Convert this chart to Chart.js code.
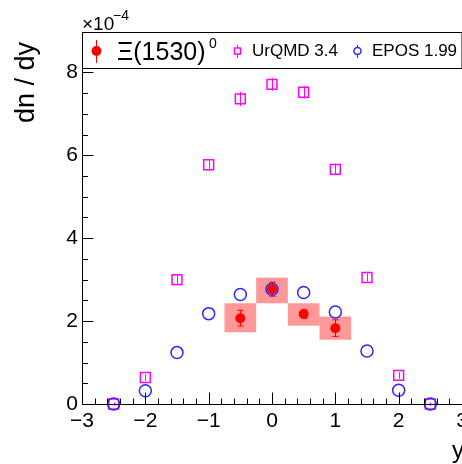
<!DOCTYPE html>
<html>
<head>
<meta charset="utf-8">
<script src="https://cdn.jsdelivr.net/npm/chart.js@4.4.0/dist/chart.umd.min.js"></script>
<style>
  html, body { margin: 0; padding: 0; background: #fff; }
</style>
</head>
<body>
<canvas id="myChart" width="462" height="464"></canvas>
<script>
// values in units of 1e-4
var rapidity = [-0.5, 0, 0.5, 1];
var xiYield = [2.07, 2.77, 2.17, 1.83];
var xiStat = [0.19, 0.17, 0.1, 0.2];
var xiSysLow = [1.73, 2.43, 1.89, 1.55];
var xiSysHigh = [2.43, 3.05, 2.43, 2.11];
var sysHalfWidth = 0.25;

var modelRapidity = [-2.5, -2, -1.5, -1, -0.5, 0, 0.5, 1, 1.5, 2, 2.5];
var urqmd = [0, 0.64, 3.0, 5.77, 7.36, 7.71, 7.52, 5.66, 3.05, 0.69, 0];
var urqmdErr = [0.04, 0.08, 0.1, 0.14, 0.17, 0.15, 0.15, 0.14, 0.1, 0.08, 0.04];
var epos = [0, 0.32, 1.24, 2.18, 2.64, 2.77, 2.69, 2.22, 1.28, 0.33, 0];

var xTicks = [-3, -2, -1, 0, 1, 2, 3];
var yTicks = [0, 2, 4, 6, 8];

var FONT = '"Liberation Sans", Arial, Helvetica, sans-serif';

function pts(xv, yv) {
    return xv.map(function (x, i) { return {x: x, y: yv[i]}; });
}

function minus(v) {
    return String(v).replace('-', '\u2212');
}

var rootStyle = {
    id: 'rootStyle',
    beforeDatasetsDraw: function (chart) {
        var ctx = chart.ctx, xs = chart.scales.x, ys = chart.scales.y;
        ctx.save();
        // systematic boxes
        ctx.fillStyle = 'rgba(255, 0, 0, 0.4)';
        rapidity.forEach(function (r, i) {
            var x0 = xs.getPixelForValue(r - sysHalfWidth), x1 = xs.getPixelForValue(r + sysHalfWidth);
            var y0 = ys.getPixelForValue(xiSysHigh[i]), y1 = ys.getPixelForValue(xiSysLow[i]);
            ctx.fillRect(x0, y0, x1 - x0, y1 - y0);
        });
        // UrQMD error bars
        ctx.strokeStyle = '#ff00ff';
        ctx.lineWidth = 1;
        modelRapidity.forEach(function (r, i) {
            var x = Math.round(xs.getPixelForValue(r)) + 0.5;
            ctx.beginPath();
            ctx.moveTo(x, ys.getPixelForValue(urqmd[i] + urqmdErr[i]));
            ctx.lineTo(x, ys.getPixelForValue(urqmd[i] - urqmdErr[i]));
            ctx.stroke();
        });
        // Xi stat error bars
        ctx.strokeStyle = '#ff0000';
        rapidity.forEach(function (r, i) {
            var x = Math.round(xs.getPixelForValue(r)) + 0.5;
            var yt = ys.getPixelForValue(xiYield[i] + xiStat[i]), yb = ys.getPixelForValue(xiYield[i] - xiStat[i]);
            ctx.beginPath();
            ctx.moveTo(x, yt); ctx.lineTo(x, yb);
            ctx.moveTo(x - 3, yt); ctx.lineTo(x + 3, yt);
            ctx.moveTo(x - 3, yb); ctx.lineTo(x + 3, yb);
            ctx.stroke();
        });
        ctx.restore();
    },
    afterDraw: function (chart) {
        var ctx = chart.ctx, xs = chart.scales.x, ys = chart.scales.y, a = chart.chartArea;
        ctx.save();
        ctx.strokeStyle = '#000';
        ctx.lineWidth = 1;
        var left = Math.round(a.left) + 0.5, bottom = Math.round(a.bottom) + 0.5;
        ctx.beginPath();
        ctx.moveTo(left, a.top); ctx.lineTo(left, bottom); ctx.lineTo(a.right, bottom);
        // ticks inside the frame
        for (var v = 0; v <= ys.max + 1e-6; v += 0.5) {
            var y = Math.round(ys.getPixelForValue(v)) + 0.5;
            var len = (Math.abs(v % 2) < 1e-6) ? 11 : 5.5;
            ctx.moveTo(left, y); ctx.lineTo(left + len, y);
        }
        for (var k = -15; k <= 15; k++) {
            var xv = k * 0.2;
            var x = Math.round(xs.getPixelForValue(xv)) + 0.5;
            var l2 = (k % 5 === 0) ? 12 : 6;
            ctx.moveTo(x, bottom); ctx.lineTo(x, bottom - l2);
        }
        ctx.stroke();

        // legend box
        ctx.fillStyle = '#fff';
        ctx.fillRect(left, 32.5, 462 - left, 36);
        ctx.strokeRect(left, 32.5, 462 - left, 36);

        ctx.fillStyle = '#000';
        ctx.textBaseline = 'alphabetic';
        ctx.textAlign = 'left';
        // Xi entry
        ctx.strokeStyle = '#ff0000';
        ctx.beginPath();
        ctx.moveTo(96.5, 40); ctx.lineTo(96.5, 63);
        ctx.stroke();
        ctx.fillStyle = '#ff0000';
        ctx.beginPath();
        ctx.arc(96.5, 51, 5, 0, Math.PI * 2);
        ctx.fill();
        ctx.fillStyle = '#000';
        ctx.font = '25px ' + FONT;
        ctx.fillText('\u039E(1530)', 117, 60);
        ctx.font = '14px ' + FONT;
        ctx.fillText('0', 209, 48);
        // UrQMD entry
        ctx.strokeStyle = '#ff00ff';
        ctx.lineWidth = 1;
        ctx.beginPath();
        ctx.moveTo(237.5, 45); ctx.lineTo(237.5, 58);
        ctx.stroke();
        ctx.lineWidth = 1.5;
        ctx.fillStyle = '#fff';
        ctx.fillRect(234.5, 48, 6, 6);
        ctx.strokeRect(234.5, 48, 6, 6);
        ctx.fillStyle = '#000';
        ctx.font = '17px ' + FONT;
        ctx.fillText('UrQMD 3.4', 252, 56);
        // EPOS entry
        ctx.strokeStyle = 'rgb(40, 40, 255)';
        ctx.lineWidth = 1;
        ctx.beginPath();
        ctx.moveTo(357.5, 45); ctx.lineTo(357.5, 58);
        ctx.stroke();
        ctx.lineWidth = 1.5;
        ctx.fillStyle = '#fff';
        ctx.beginPath();
        ctx.arc(357.5, 51, 3.5, 0, Math.PI * 2);
        ctx.fill(); ctx.stroke();
        ctx.fillStyle = '#000';
        ctx.font = '17px ' + FONT;
        ctx.fillText('EPOS 1.99', 372, 56);

        // exponent
        ctx.font = '19px ' + FONT;
        ctx.fillText('\u00D710', 82, 30);
        ctx.font = '14px ' + FONT;
        ctx.fillText('\u22124', 113, 20);

        // axis titles
        ctx.font = '24px ' + FONT;
        ctx.fillText('y', 452, 458);
        ctx.save();
        ctx.translate(34, 123);
        ctx.rotate(-Math.PI / 2);
        ctx.font = '27px ' + FONT;
        ctx.textAlign = 'left';
        ctx.fillText('dn / dy', 0, 0);
        ctx.restore();
        ctx.restore();
    }
};

var ctx = document.getElementById('myChart').getContext('2d');
var myChart = new Chart(ctx, {
    type: 'scatter',
    data: {
        datasets: [
            {
                label: '\u039E(1530)\u2070',
                data: pts(rapidity, xiYield),
                pointStyle: 'circle',
                pointRadius: 5,
                pointBackgroundColor: '#ff0000',
                pointBorderColor: '#ff0000',
                pointBorderWidth: 0,
                clip: false
            },
            {
                label: 'EPOS 1.99',
                data: pts(modelRapidity, epos),
                pointStyle: 'circle',
                pointRadius: 6,
                pointBackgroundColor: 'rgba(0,0,0,0)',
                pointBorderColor: 'rgb(40, 40, 255)',
                pointBorderWidth: 1.5,
                clip: false
            },
            {
                label: 'UrQMD 3.4',
                data: pts(modelRapidity, urqmd),
                pointStyle: 'rect',
                pointRadius: 7,
                pointBackgroundColor: 'rgba(0,0,0,0)',
                pointBorderColor: '#ff00ff',
                pointBorderWidth: 1.5,
                clip: false
            }
        ]
    },
    options: {
        responsive: false,
        animation: false,
        devicePixelRatio: 1,
        layout: { autoPadding: false, padding: { top: 33, right: 0, left: 0, bottom: 0 } },
        plugins: { legend: { display: false }, tooltip: { enabled: false } },
        scales: {
            x: {
                type: 'linear',
                min: -3,
                max: 3,
                afterFit: function (s) { s.height = 60; s.paddingLeft = 0; s.paddingRight = 0; },
                afterBuildTicks: function (s) { s.ticks = xTicks.map(function (v) { return {value: v}; }); },
                grid: { display: false, drawTicks: false },
                border: { display: false },
                ticks: {
                    padding: 5,
                    color: '#000',
                    font: { family: FONT, size: 21 },
                    maxRotation: 0,
                    callback: function (v) { return minus(v); }
                }
            },
            y: {
                type: 'linear',
                min: 0,
                max: 8.95,
                afterFit: function (s) { s.width = 82; s.paddingTop = 0; s.paddingBottom = 0; },
                afterBuildTicks: function (s) { s.ticks = yTicks.map(function (v) { return {value: v}; }); },
                grid: { display: false, drawTicks: false },
                border: { display: false },
                ticks: {
                    padding: 4,
                    color: '#000',
                    font: { family: FONT, size: 21 },
                    callback: function (v) { return minus(v); }
                }
            }
        }
    },
    plugins: [rootStyle]
});
</script>
</body>
</html>
